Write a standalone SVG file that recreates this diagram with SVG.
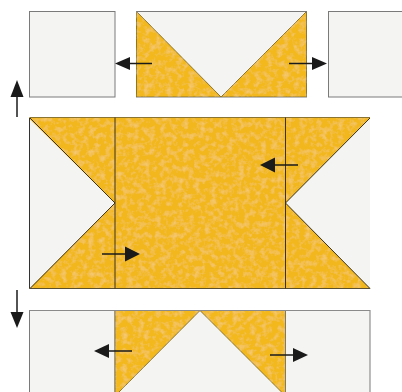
<svg xmlns="http://www.w3.org/2000/svg" width="402" height="392" viewBox="0 0 402 392">
<defs>
<style>
.wh{fill:#f4f4f3;stroke:#7a7a7a;stroke-width:1}
.ye{fill:#f2b81a;stroke:#8a7430;stroke-width:1}
.seam{stroke:#3a3320;stroke-width:1;fill:none}
.arr{stroke:#1a1a1a;stroke-width:1.5;fill:none}
.ah{fill:#1a1a1a}
</style>
<filter id="tex" x="0" y="0" width="1" height="1">
<feTurbulence type="fractalNoise" baseFrequency="0.18" numOctaves="3" seed="4" result="n"/>
<feColorMatrix in="n" type="matrix" values="0 0 0 0 1  0 0 0 0 0.95  0 0 0 0 0.7  0 0 0 0.5 -0.22" result="m"/>
<feComposite in="m" in2="SourceGraphic" operator="in" result="c"/>
<feMerge><feMergeNode in="SourceGraphic"/><feMergeNode in="c"/></feMerge>
</filter>
</defs>
<rect width="402" height="392" fill="#ffffff"/>

<g id="top-left-square">
<rect class="wh" x="29.5" y="11.5" width="85.5" height="85.5"/>
</g>
<g id="top-flying-geese">
<rect class="wh" x="136.5" y="11.5" width="170" height="85.5"/>
<polygon class="ye" points="136.5,11.5 221,97 136.5,97" filter="url(#tex)"/>
<polygon class="ye" points="306.5,11.5 306.5,97 221,97" filter="url(#tex)"/>
<line x1="136.5" y1="11.5" x2="306.5" y2="11.5" stroke="#7a7a7a"/>
</g>
<g id="top-right-square">
<rect class="wh" x="328.5" y="11.5" width="80" height="85.5"/>
</g>

<g id="middle-unit">
<rect x="29.5" y="117.5" width="340.5" height="171" fill="#f2b71a" filter="url(#tex)"/>
<polygon points="29.5,119 115,203 29.5,288.5" fill="#f4f4f3"/>
<polygon points="370,118 285.5,203 370,288.5" fill="#f4f4f3"/>
<polyline class="seam" points="30,118 115,203 30,288.5"/>
<polyline class="seam" points="370,118 285.5,203 370,288.5" stroke="#8a7430"/>
<line x1="29.5" y1="117.5" x2="370" y2="117.5" stroke="#8a7430"/>
<line x1="29.5" y1="288.5" x2="370" y2="288.5" stroke="#5a5030"/>
<line x1="29.5" y1="118" x2="29.5" y2="288.5" stroke="#333"/>
<line class="seam" x1="115" y1="117.5" x2="115" y2="288.5"/>
<line class="seam" x1="285.5" y1="117.5" x2="285.5" y2="288.5"/>
</g>

<g id="bottom-left-square">
<rect class="wh" x="29.5" y="310.5" width="85.5" height="90"/>
</g>
<g id="bottom-flying-geese">
<rect class="wh" x="115" y="310.5" width="170.5" height="90"/>
<polygon class="ye" points="115,310.5 200,310.5 115,396" filter="url(#tex)"/>
<polygon class="ye" points="200,310.5 285.5,310.5 285.5,396" filter="url(#tex)"/>
</g>
<g id="bottom-right-square">
<rect class="wh" x="285.5" y="310.5" width="84.5" height="90"/>
</g>
<line x1="29.5" y1="310.5" x2="370" y2="310.5" stroke="#8a8a8a"/>

<g id="connectors">
<line class="arr" x1="17" y1="117" x2="17" y2="95"/>
<polygon class="ah" points="17,80 10.5,97 23.5,97"/>
<line class="arr" x1="17" y1="290" x2="17" y2="314"/>
<polygon class="ah" points="17,328 10.5,312 23.5,312"/>

<line class="arr" x1="152" y1="63.5" x2="128" y2="63.5"/>
<polygon class="ah" points="115,63.5 130,57 130,70"/>
<line class="arr" x1="289" y1="63.5" x2="314" y2="63.5"/>
<polygon class="ah" points="327,63.5 312,57 312,70"/>

<line class="arr" x1="298" y1="165" x2="272" y2="165"/>
<polygon class="ah" points="260,165 275,157.5 275,172.5"/>
<line class="arr" x1="102" y1="254" x2="128" y2="254"/>
<polygon class="ah" points="140,254 125,246.5 125,261.5"/>

<line class="arr" x1="132" y1="351" x2="106" y2="351"/>
<polygon class="ah" points="94,351 109,344 109,358"/>
<line class="arr" x1="270" y1="355" x2="296" y2="355"/>
<polygon class="ah" points="308,355 293,348 293,362"/>
</g>
</svg>
